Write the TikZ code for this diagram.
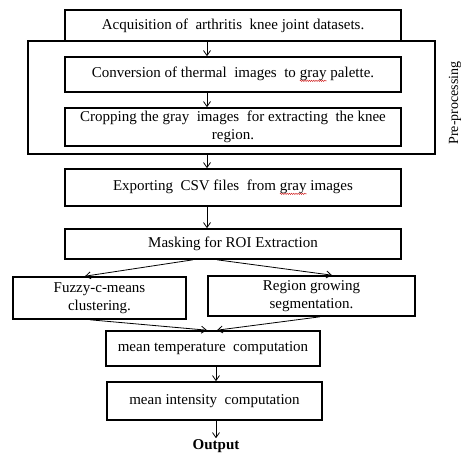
\documentclass[tikz,border=0pt]{standalone}
\usepackage{fontspec}
\setmainfont{Liberation Serif}
\usetikzlibrary{arrows.meta,decorations.pathmorphing}
\newcommand\redwave[1]{\tikz[baseline=(w.base),x=1cm,y=1cm]{\node[draw=none,fill=none,inner sep=0pt,outer sep=0pt,minimum width=0pt,minimum height=0pt] (w) {#1};
  \draw[red!80!black, line width=0.35pt, decorate, decoration={snake,amplitude=0.7pt,segment length=2.2pt}] ([yshift=-3pt]w.base west) -- ([yshift=-3pt]w.base east);}}
\tikzset{
  box/.style={draw, line width=1.6pt, align=center, inner sep=0pt, font=\fontsize{15}{17.5}\selectfont},
  arr/.style={draw, line width=0.8pt, -{Straight Barb[length=5pt,width=7pt]}},
}
\begin{document}
\begin{tikzpicture}[x=1pt,y=-1pt]
\useasboundingbox (0,0) rectangle (461,454);
\node[box, minimum width=407pt, minimum height=113pt] (frame) at (231.5,97.5) {};
\node[box, fill=white, minimum width=336pt, minimum height=31pt] (acq) at (233,25.5) {Acquisition of \ arthritis \ knee joint datasets.};
\node[box, minimum width=336pt, minimum height=35pt] (conv) at (233,74.5) {Conversion of thermal \ images \ to \redwave{gray} palette.};
\node[box, minimum width=336pt, minimum height=38pt] (crop) at (233,127) {Cropping the gray \ images \ for extracting \ the knee\\region.};
\node[box, minimum width=336pt, minimum height=37pt] (csv) at (233,187.5) {Exporting \ CSV files \ from \redwave{gray} images};
\node[box, minimum width=336pt, minimum height=30pt] (mask) at (233,244) {Masking for ROI Extraction};
\node[box, minimum width=173pt, minimum height=42pt] (fcm) at (99.5,298) {Fuzzy-c-means\\clustering.};
\node[box, minimum width=207pt, minimum height=40pt] (rg) at (311.5,296) {Region growing\\segmentation.};
\node[box, minimum width=214pt, minimum height=35pt] (mt) at (213,348.5) {mean temperature \ computation};
\node[box, minimum width=215pt, minimum height=38pt] (mi) at (214.5,401) {mean intensity \ computation};
\node[font=\fontsize{15}{16}\selectfont\bfseries, inner sep=1pt] (out) at (216,446) {Output};
\node[rotate=90, font=\fontsize{14}{15}\selectfont, inner sep=0pt] (pre) at (455,103) {Pre-processing};
\draw[arr] ([xshift=-26pt]acq.south) -- ([xshift=-26pt]conv.north);
\draw[arr] ([xshift=-26pt]conv.south) -- ([xshift=-26pt]crop.north);
\draw[arr] ([xshift=-26pt]frame.south -| acq.south) -- ([xshift=-26pt]csv.north);
\draw[arr] ([xshift=-26pt]csv.south) -- ([xshift=-26pt]mask.north);
\draw[arr] ([xshift=-40pt]mask.south) -- ([xshift=-14.5pt]fcm.north);
\draw[arr] ([xshift=-16pt]mask.south) -- ([xshift=20.5pt]rg.north);
\draw[arr] ([xshift=-9.5pt]fcm.south) -- ([xshift=-6pt]mt.north);
\draw[arr] ([xshift=8.5pt]rg.south) -- ([xshift=4pt]mt.north);
\draw[arr] ([xshift=3pt]mt.south) -- ([xshift=1.5pt]mi.north);
\draw[arr] ([xshift=1.5pt]mi.south) -- (out.north);
\end{tikzpicture}
\end{document}
